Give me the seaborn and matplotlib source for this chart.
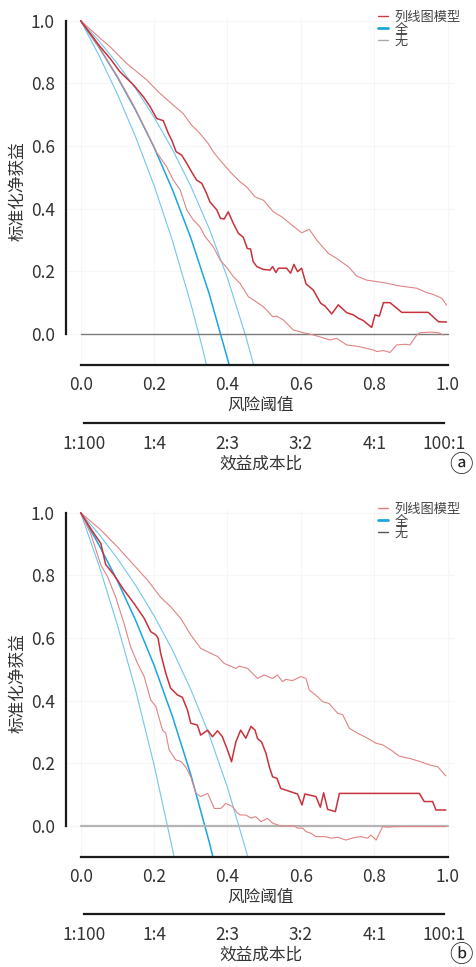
import numpy as np
import matplotlib
matplotlib.use('Agg')
import matplotlib.pyplot as plt
from matplotlib.lines import Line2D
import seaborn as sns

sns.set_style('white')
plt.rcParams['font.family'] = ['Noto Sans CJK SC', 'DejaVu Sans']
plt.rcParams['axes.unicode_minus'] = False

# ---- panel a: nomogram net benefit + CI ----
a_nom_x = [0, 0.053, 0.080, 0.107, 0.144, 0.171, 0.189, 0.207, 0.225, 0.239, 0.248, 0.260, 0.275, 0.289,
           0.302, 0.316, 0.330, 0.343, 0.352, 0.371, 0.381, 0.391, 0.402, 0.416, 0.430, 0.443, 0.454,
           0.463, 0.470, 0.480, 0.498, 0.516, 0.523, 0.532, 0.539, 0.561, 0.572, 0.581, 0.591, 0.602,
           0.614, 0.625, 0.634, 0.654, 0.666, 0.684, 0.702, 0.725, 0.743, 0.757, 0.770, 0.779, 0.793,
           0.802, 0.814, 0.825, 0.843, 0.875, 0.947, 0.975, 0.997]
a_nom_y = [1.0, 0.917, 0.880, 0.837, 0.795, 0.757, 0.726, 0.688, 0.681, 0.640, 0.619, 0.582, 0.571, 0.545,
           0.518, 0.491, 0.481, 0.449, 0.422, 0.396, 0.369, 0.367, 0.390, 0.353, 0.321, 0.309, 0.273,
           0.271, 0.231, 0.215, 0.206, 0.204, 0.215, 0.196, 0.210, 0.210, 0.194, 0.222, 0.199, 0.210,
           0.160, 0.149, 0.140, 0.098, 0.089, 0.064, 0.093, 0.068, 0.061, 0.050, 0.043, 0.034, 0.021,
           0.061, 0.057, 0.100, 0.100, 0.069, 0.069, 0.039, 0.038]
a_hi_x = [0, 0.053, 0.080, 0.125, 0.180, 0.216, 0.252, 0.279, 0.302, 0.325, 0.347, 0.361, 0.379, 0.407,
          0.434, 0.452, 0.475, 0.498, 0.525, 0.548, 0.571, 0.602, 0.623, 0.643, 0.675, 0.698, 0.730,
          0.752, 0.779, 0.825, 0.871, 0.916, 0.943, 0.961, 0.984, 0.997]
a_hi_y = [1.0, 0.944, 0.917, 0.864, 0.811, 0.768, 0.731, 0.704, 0.667, 0.640, 0.609, 0.582, 0.556, 0.518,
          0.486, 0.470, 0.438, 0.427, 0.390, 0.374, 0.352, 0.323, 0.334, 0.300, 0.257, 0.241, 0.214,
          0.185, 0.172, 0.164, 0.153, 0.146, 0.132, 0.126, 0.114, 0.092]
a_lo_x = [0, 0.050, 0.100, 0.144, 0.180, 0.207, 0.234, 0.252, 0.271, 0.289, 0.307, 0.325, 0.339, 0.361,
          0.380, 0.398, 0.416, 0.434, 0.457, 0.470, 0.498, 0.511, 0.523, 0.534, 0.552, 0.579, 0.607,
          0.634, 0.657, 0.679, 0.698, 0.725, 0.757, 0.779, 0.797, 0.807, 0.825, 0.843, 0.861, 0.884,
          0.897, 0.916, 0.925, 0.952, 0.975, 0.988]
a_lo_y = [1.0, 0.915, 0.822, 0.730, 0.645, 0.580, 0.534, 0.492, 0.460, 0.396, 0.364, 0.342, 0.311, 0.279,
          0.236, 0.212, 0.183, 0.162, 0.119, 0.109, 0.087, 0.071, 0.055, 0.057, 0.045, 0.013, 0.004,
          -0.003, -0.011, -0.019, -0.014, -0.035, -0.040, -0.046, -0.051, -0.056, -0.053, -0.059, -0.035,
          -0.033, -0.035, -0.003, 0.004, 0.006, 0.004, -0.003]
# treat-all curves (panel a)
a_all_x = [0, 0.05, 0.10, 0.15, 0.20, 0.25, 0.30, 0.35, 0.40, 0.41]
a_all_y = [1.0, 0.915, 0.820, 0.714, 0.596, 0.461, 0.307, 0.129, -0.079, -0.124]
a_all_lo_x = [0, 0.05, 0.10, 0.15, 0.20, 0.25, 0.30, 0.33, 0.35]
a_all_lo_y = [1.0, 0.889, 0.766, 0.628, 0.474, 0.298, 0.097, -0.037, -0.134]
a_all_hi_x = [0, 0.05, 0.10, 0.15, 0.20, 0.25, 0.30, 0.35, 0.40, 0.45, 0.47, 0.475]
a_all_hi_y = [1.0, 0.935, 0.863, 0.783, 0.692, 0.589, 0.472, 0.337, 0.179, -0.008, -0.093, -0.115]

# ---- panel b ----
b_nom_x = [0, 0.036, 0.055, 0.068, 0.091, 0.118, 0.145, 0.173, 0.191, 0.205, 0.211, 0.218,
           0.232, 0.245, 0.264, 0.277, 0.291, 0.300, 0.318, 0.327, 0.346, 0.359, 0.373,
           0.386, 0.400, 0.411, 0.423, 0.436, 0.450, 0.464, 0.475, 0.482, 0.493, 0.505, 0.514,
           0.523, 0.535, 0.545, 0.573, 0.591, 0.603, 0.611, 0.641, 0.653, 0.662, 0.673, 0.694, 0.705,
           0.923, 0.936, 0.959, 0.968, 0.995]
b_nom_y = [1.0, 0.934, 0.902, 0.835, 0.801, 0.753, 0.711, 0.663, 0.620, 0.610, 0.599, 0.551,
           0.487, 0.440, 0.418, 0.411, 0.370, 0.328, 0.322, 0.290, 0.306, 0.285, 0.304,
           0.285, 0.243, 0.205, 0.269, 0.306, 0.280, 0.318, 0.306, 0.279, 0.268, 0.232, 0.189,
           0.157, 0.152, 0.120, 0.109, 0.102, 0.067, 0.102, 0.094, 0.060, 0.106, 0.053, 0.046, 0.104,
           0.104, 0.078, 0.078, 0.051, 0.051]
b_hi_x = [0, 0.055, 0.100, 0.145, 0.182, 0.218, 0.245, 0.273, 0.300, 0.327, 0.355, 0.373, 0.391, 0.409,
          0.423, 0.432, 0.455, 0.482, 0.500, 0.523, 0.536, 0.550, 0.559, 0.577, 0.600, 0.614, 0.623,
          0.645, 0.659, 0.677, 0.700, 0.714, 0.732, 0.755, 0.782, 0.805, 0.823, 0.845, 0.868, 0.895,
          0.927, 0.950, 0.973, 0.995]
b_hi_y = [1.0, 0.945, 0.891, 0.833, 0.785, 0.730, 0.700, 0.662, 0.610, 0.567, 0.551, 0.541, 0.519, 0.510,
          0.503, 0.510, 0.503, 0.471, 0.482, 0.471, 0.482, 0.461, 0.468, 0.464, 0.477, 0.471, 0.434,
          0.413, 0.397, 0.391, 0.360, 0.355, 0.312, 0.296, 0.280, 0.264, 0.259, 0.243, 0.223, 0.216,
          0.205, 0.195, 0.189, 0.160]
b_lo_x = [0, 0.027, 0.055, 0.073, 0.095, 0.118, 0.136, 0.155, 0.173, 0.191, 0.205, 0.223, 0.232, 0.241,
          0.259, 0.273, 0.286, 0.300, 0.314, 0.327, 0.346, 0.350, 0.364, 0.382, 0.395, 0.405, 0.414,
          0.427, 0.436, 0.450, 0.464, 0.477, 0.491, 0.509, 0.523, 0.545, 0.582, 0.591, 0.605, 0.614,
          0.627, 0.641, 0.655, 0.668, 0.682, 0.700, 0.723, 0.745, 0.764, 0.782, 0.791, 0.805, 0.823,
          0.836, 0.855, 0.995]
b_lo_y = [1.0, 0.934, 0.833, 0.796, 0.732, 0.647, 0.572, 0.519, 0.477, 0.402, 0.381, 0.306, 0.296, 0.243,
          0.211, 0.206, 0.189, 0.157, 0.104, 0.094, 0.104, 0.094, 0.056, 0.056, 0.072, 0.067, 0.062,
          0.041, 0.035, 0.035, 0.025, 0.030, 0.014, 0.024, 0.009, 0.000, 0.000, -0.007, -0.007, -0.018,
          -0.023, -0.034, -0.034, -0.034, -0.039, -0.036, -0.045, -0.037, -0.034, -0.039, -0.029, -0.045,
          -0.002, -0.004, -0.002, -0.002]
b_all_x = [0, 0.05, 0.10, 0.15, 0.20, 0.25, 0.30, 0.35, 0.37]
b_all_y = [1.0, 0.897, 0.783, 0.656, 0.513, 0.350, 0.164, -0.050, -0.145]
b_all_lo_x = [0, 0.05, 0.10, 0.15, 0.20, 0.25, 0.26]
b_all_lo_y = [1.0, 0.831, 0.642, 0.432, 0.195, -0.073, -0.131]
b_all_hi_x = [0, 0.05, 0.10, 0.15, 0.20, 0.25, 0.30, 0.35, 0.40, 0.45, 0.46]
b_all_hi_y = [1.0, 0.931, 0.854, 0.768, 0.671, 0.562, 0.436, 0.292, 0.123, -0.076, -0.120]

none_x = [0.0, 1.0]
none_y = [0.0, 0.0]

thresh_ticks = [0.0, 0.2, 0.4, 0.6, 0.8, 1.0]
ratio_pairs = [(1, 100), (1, 4), (2, 3), (3, 2), (4, 1), (100, 1)]
ratio_labels = [f'{a}:{b}' for a, b in ratio_pairs]
legend_labels = ['列线图模型', '全', '无']

RED = '#c8323c'
RED_CI = '#e08484'
BLUE = '#1aa6e0'
BLUE_CI = '#72c6ee'
TXT = '#333333'
SPINE = '#1a1a1a'

W, H = 476, 967
fig = plt.figure(figsize=(W / 100, H / 100), dpi=100)

LEFT = 66 / W
WIDTH = 389 / W
HEIGHT = 347.7 / H


def line(ax, x, y, color, lw, z=2):
    sns.lineplot(x=x, y=y, ax=ax, color=color, lw=lw, sort=False, estimator=None,
                 legend=False, zorder=z)


def panel(bottom, sec_bottom, d, zero_color, zero_lw, leg_colors, tag):
    ax = fig.add_axes([LEFT, bottom, WIDTH, HEIGHT])
    ax.grid(True, color='#f6f6f6', lw=0.8)
    ax.set_axisbelow(True)

    line(ax, d['all_lo'][0], d['all_lo'][1], BLUE_CI, 0.8)
    line(ax, d['all_hi'][0], d['all_hi'][1], BLUE_CI, 0.8)
    line(ax, d['all'][0], d['all'][1], BLUE, 1.1)
    line(ax, none_x, none_y, zero_color, zero_lw, z=2.5)
    line(ax, d['hi'][0], d['hi'][1], RED_CI, 0.8, z=3)
    line(ax, d['lo'][0], d['lo'][1], RED_CI, 0.8, z=3)
    line(ax, d['nom'][0], d['nom'][1], RED, 1.1, z=4)

    ax.set_xlim(-0.04, 1.02)
    ax.set_ylim(-0.1, 1.01)
    ax.set_xticks(thresh_ticks)
    ax.set_yticks(thresh_ticks)
    ax.set_xticklabels([f'{t:.1f}' for t in thresh_ticks])
    ax.set_yticklabels([f'{t:.1f}' for t in thresh_ticks])
    for s in ['top', 'right']:
        ax.spines[s].set_visible(False)
    for s in ['left', 'bottom']:
        ax.spines[s].set_linewidth(1.6)
        ax.spines[s].set_color(SPINE)
    ax.spines['left'].set_bounds(0, 1)
    ax.spines['bottom'].set_bounds(0, 1)
    ax.tick_params(axis='both', length=5, width=1.6, color=SPINE, labelsize=12.5,
                   labelcolor=TXT, pad=3, direction='out')
    ax.set_xlabel('风险阈值', fontsize=12, color=TXT, labelpad=2)
    ax.set_ylabel('标准化净获益', fontsize=12, color=TXT, labelpad=3)

    handles = [Line2D([], [], color=leg_colors[0], lw=1.0),
               Line2D([], [], color=BLUE, lw=2.0),
               Line2D([], [], color=leg_colors[2], lw=1.0)]
    leg = ax.legend(handles, legend_labels, loc='upper right', bbox_to_anchor=(1.015, 1.019),
                    frameon=False, fontsize=9.5, handlelength=0.75, handletextpad=0.5,
                    labelspacing=-0.1, borderaxespad=0, borderpad=0)
    for t in leg.get_texts():
        t.set_color('#444444')

    # cost:benefit axis
    sec = fig.add_axes([LEFT, sec_bottom, WIDTH, 0.0001])
    sec.set_xlim(-0.04, 1.02)
    sec.set_yticks([])
    for s in ['top', 'right', 'left']:
        sec.spines[s].set_visible(False)
    sec.spines['bottom'].set_linewidth(1.6)
    sec.spines['bottom'].set_color(SPINE)
    pos = [a / (a + b) for a, b in ratio_pairs]
    sec.spines['bottom'].set_bounds(pos[0], pos[-1])
    sec.set_xticks(pos)
    sec.set_xticklabels(ratio_labels)
    sec.tick_params(axis='x', length=5.5, width=1.6, color=SPINE, labelsize=12.5,
                    labelcolor=TXT, pad=3)
    sec.set_xlabel('效益成本比', fontsize=12, color=TXT, labelpad=2)
    sec.patch.set_visible(False)

    fig.text(461 / W, 1 - tag[1] / H, tag[0], fontsize=17, color='#222222',
             ha='center', va='center', family=['Noto Sans CJK SC', 'DejaVu Sans'])


panel((H - 365.3) / H, (H - 422.7) / H,
      {'nom': (a_nom_x, a_nom_y), 'hi': (a_hi_x, a_hi_y), 'lo': (a_lo_x, a_lo_y),
       'all': (a_all_x, a_all_y), 'all_lo': (a_all_lo_x, a_all_lo_y), 'all_hi': (a_all_hi_x, a_all_hi_y)},
      '#7a7a7a', 1.0, ['#d03a3a', BLUE, '#aaaaaa'], ('ⓐ', 465))
panel((H - 857.3) / H, (H - 914) / H,
      {'nom': (b_nom_x, b_nom_y), 'hi': (b_hi_x, b_hi_y), 'lo': (b_lo_x, b_lo_y),
       'all': (b_all_x, b_all_y), 'all_lo': (b_all_lo_x, b_all_lo_y), 'all_hi': (b_all_hi_x, b_all_hi_y)},
      '#b4b4b4', 1.6, ['#e08080', BLUE, '#555555'], ('ⓑ', 956))

fig.savefig('out.png', dpi=100)
